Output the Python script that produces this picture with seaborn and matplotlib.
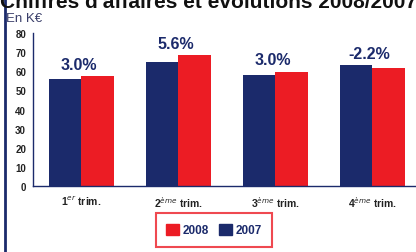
import pandas as pd
import seaborn as sns
import matplotlib.pyplot as plt
from matplotlib.lines import Line2D
from matplotlib.patches import Patch

quarters = [r"1$^{er}$ trim.", r"2$^{ème}$ trim.", r"3$^{ème}$ trim.", r"4$^{ème}$ trim."]
ca_2007 = [55.9, 65.0, 58.1, 63.3]
ca_2008 = [57.6, 68.6, 59.8, 61.9]
evolutions = ["3.0%", "5.6%", "3.0%", "-2.2%"]
years = ["2007", "2008"]

navy = "#1b2a6b"
red = "#ec1c24"

df = pd.DataFrame({
    "trim": quarters * 2,
    "annee": ["2007"] * 4 + ["2008"] * 4,
    "ca": ca_2007 + ca_2008,
})

sns.set_style("white")
plt.rcParams["font.family"] = ["Liberation Sans", "DejaVu Sans"]

fig = plt.figure(figsize=(4.16, 2.53), dpi=100)
ax = fig.add_axes([33 / 416, 66 / 253, 383 / 416, 153 / 253])

sns.barplot(data=df, x="trim", y="ca", hue="annee", hue_order=years,
            palette={"2007": navy, "2008": red}, width=0.67, saturation=1,
            edgecolor="none", ax=ax, legend=False)

# evolution labels above each quarter
for i, lab in enumerate(evolutions):
    top = max(ca_2007[i], ca_2008[i])
    ax.annotate(lab, (i, top), xytext=(-2, 3), textcoords="offset points",
                ha="center", va="bottom", fontsize=11.5, fontweight="bold",
                color=navy)

ax.set_xlim(-0.5, 3.45)
ax.set_ylim(0, 80)
ax.set_yticks(range(0, 81, 10))
ax.set_xlabel("")
ax.set_ylabel("")
ax.set_xticks([0.5, 1.5, 2.5], minor=True)
ax.tick_params(axis="x", which="major", length=0, pad=6, labelsize=7.5, colors="#222222")
ax.tick_params(axis="x", which="minor", length=3, direction="out", color=navy)
ax.tick_params(axis="y", length=3, direction="out", color=navy, labelsize=7, pad=2)
for t in ax.get_xticklabels() + ax.get_yticklabels():
    t.set_fontweight("bold")
    t.set_color("#222222")
sns.despine(ax=ax)
for s in ["left", "bottom"]:
    ax.spines[s].set_color(navy)
    ax.spines[s].set_linewidth(1.0)

fig.text(0.5, 1 - 8 / 253, "Chiffres d'affaires et évolutions 2008/2007",
         ha="center", va="baseline", fontsize=15, fontweight="bold", color="#111111")
fig.text(6 / 416, 1 - 22 / 253, "En K€", ha="left", va="baseline",
         fontsize=9.5, color="#3a3f6a")

fig.add_artist(Line2D([4.5 / 416, 4.5 / 416], [0, 1], color=navy, lw=2))

handles = [Patch(color=red, label="2008"), Patch(color=navy, label="2007")]
leg = fig.legend(handles=handles, loc="center", bbox_to_anchor=(214 / 416, 22 / 253),
                 ncol=2, frameon=True, fancybox=False, fontsize=8.5,
                 handlelength=1.1, handleheight=1.1, handletextpad=0.3,
                 columnspacing=0.8, borderpad=0.9)
leg.get_frame().set_edgecolor(red)
leg.get_frame().set_linewidth(1.5)
for t in leg.get_texts():
    t.set_fontweight("bold")
    t.set_color(navy)

fig.savefig("out.png", dpi=100)
